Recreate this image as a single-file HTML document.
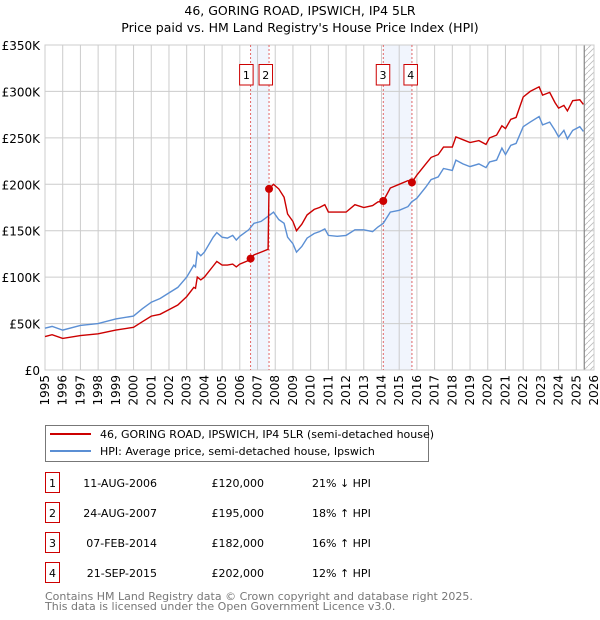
<!DOCTYPE html>
<html><head><meta charset="utf-8"><style>
body{margin:0;background:#fff;font-family:"Liberation Sans","DejaVu Sans",sans-serif;}
svg{display:block}
</style></head><body>
<svg id="c" width="600" height="620" font-family="DejaVu Sans, Liberation Sans, sans-serif">
<text x="300" y="15" text-anchor="middle" font-size="12.5">46, GORING ROAD, IPSWICH, IP4 5LR</text>
<text x="300" y="32" text-anchor="middle" font-size="12.5">Price paid vs. HM Land Registry's House Price Index (HPI)</text>
<g id="plot"></g>
<g>
<rect x="45.5" y="425.5" width="383" height="36" fill="#fff" stroke="#777"/>
<line x1="50" y1="434" x2="91" y2="434" stroke="#cc0000" stroke-width="2"/>
<text x="100" y="438" font-size="11">46, GORING ROAD, IPSWICH, IP4 5LR (semi-detached house)</text>
<line x1="50" y1="451" x2="91" y2="451" stroke="#5b8fd4" stroke-width="2"/>
<text x="100" y="455" font-size="11">HPI: Average price, semi-detached house, Ipswich</text>
</g>
<g id="table" font-size="11"></g>
<text x="45" y="600" font-size="11" fill="#777">Contains HM Land Registry data © Crown copyright and database right 2025.</text>
<text x="45" y="610" font-size="11" fill="#777">This data is licensed under the Open Government Licence v3.0.</text>
</svg>
<script>
const hpiYears=[1995,1995.4,1996,1997,1998,1999,2000,2000.5,2001,2001.5,2002,2002.5,2003,2003.4,2003.5,2003.6,2003.8,2004,2004.5,2004.7,2005,2005.3,2005.6,2005.8,2006,2006.5,2006.8,2007.2,2007.7,2007.9,2008.2,2008.5,2008.7,2009,2009.2,2009.5,2009.8,2010.2,2010.5,2010.8,2011,2011.5,2012,2012.5,2013,2013.5,2013.8,2014.1,2014.5,2015,2015.5,2015.7,2016,2016.5,2016.8,2017.2,2017.5,2018,2018.2,2018.6,2019,2019.5,2019.9,2020.1,2020.5,2020.8,2021,2021.3,2021.6,2022,2022.4,2022.9,2023.1,2023.5,2023.8,2024.0,2024.3,2024.5,2024.8,2025.2,2025.4];
const hpiValues=[45,47,43,48,50,55,58,66,73,77,83,89,100,113,111,127,123,127,143,148,143,142,145,140,144,151,158,160,167,170,162,158,143,136,127,133,142,147,149,152,145,144,145,151,151,149,154,158,170,172,176,181,185,197,205,208,217,215,226,222,219,222,218,224,226,239,232,242,244,262,267,273,264,267,258,251,258,249,258,262,257];
const propYears=[1995,1995.4,1996,1997,1998,1999,2000,2000.5,2001,2001.5,2002,2002.5,2003,2003.4,2003.5,2003.6,2003.8,2004,2004.5,2004.7,2005,2005.3,2005.6,2005.8,2006,2006.5,2006.61,2006.8,2007.2,2007.6,2007.65,2007.9,2008.2,2008.5,2008.7,2009,2009.2,2009.5,2009.8,2010.2,2010.5,2010.8,2011,2011.5,2012,2012.5,2013,2013.5,2013.8,2014.1,2014.5,2015,2015.5,2015.72,2016,2016.5,2016.8,2017.2,2017.5,2018,2018.2,2018.6,2019,2019.5,2019.9,2020.1,2020.5,2020.8,2021,2021.3,2021.6,2022,2022.4,2022.9,2023.1,2023.5,2023.8,2024.0,2024.3,2024.5,2024.8,2025.2,2025.4];
const propValues=[36,38,34,37,39,43,46,52,58,60,65,70,79,89,88,100,97,100,112,117,113,113,114,111,114,118,120,124,127,130,195,200,195,186,168,160,150,157,167,173,175,178,170,170,170,178,175,177,181,182,196,200,204,202,210,222,229,232,240,240,251,248,245,247,243,250,253,263,260,270,272,294,300,305,296,299,288,282,285,279,290,291,286];
const saleYears=[2006.61,2007.65,2014.1,2015.72];
const salePrices=[120,195,182,202];
const saleLabels=["1","2","3","4"];
const saleDates=["11-AUG-2006","24-AUG-2007","07-FEB-2014","21-SEP-2015"];
const salePriceText=["£120,000","£195,000","£182,000","£202,000"];
const saleHpiText=["21% ↓ HPI","18% ↑ HPI","16% ↑ HPI","12% ↑ HPI"];
const yTicks=[0,50,100,150,200,250,300,350];
const yTickLabels=["£0","£50K","£100K","£150K","£200K","£250K","£300K","£350K"];
const xTicks=[1995,1996,1997,1998,1999,2000,2001,2002,2003,2004,2005,2006,2007,2008,2009,2010,2011,2012,2013,2014,2015,2016,2017,2018,2019,2020,2021,2022,2023,2024,2025,2026];

const NS="http://www.w3.org/2000/svg";
const L=45,R=594,T=45,B=370;
const x=v=>L+(v-1995)/(2026-1995)*(R-L);
const y=v=>B-v/350*(B-T);
const g=document.getElementById('plot');
function mk(tag,attrs,parent){const e=document.createElementNS(NS,tag);for(const k in attrs)e.setAttribute(k,attrs[k]);(parent||g).appendChild(e);return e;}

for(let i=0;i<4;i+=2){
  const b=mk('rect',{x:x(saleYears[i]),y:T,width:x(saleYears[i+1])-x(saleYears[i]),height:B-T,fill:'#eef3fc',opacity:0.8});
  
  
}
yTicks.forEach((v,i)=>{
  const l=mk('line',{x1:L,x2:R,y1:y(v),y2:y(v),stroke:'#cccccc'});
  
  
  const t=mk('text',{x:L-5,y:y(v)+5,'text-anchor':'end','font-size':12});
  t.textContent=yTickLabels[i];
  
  
});
xTicks.forEach(v=>{
  const l=mk('line',{x1:x(v),x2:x(v),y1:T,y2:B,stroke:'#cccccc'});
  
  
  const t=mk('text',{x:0,y:0,'text-anchor':'end','font-size':12,transform:`translate(${x(v)+4},${B+5}) rotate(-90)`});
  t.textContent=v;
  
  
});
const defs=mk('defs',{});
const p=mk('pattern',{id:'h',width:6,height:6,patternUnits:'userSpaceOnUse'},defs);
mk('path',{d:'M0,6 L6,0',stroke:'#bbb','stroke-width':0.8},p);
const hx=x(2025.45);
const hr=mk('rect',{x:hx,y:T,width:R-hx,height:B-T,fill:'url(#h)'});


const hl=mk('line',{x1:hx,x2:hx,y1:T,y2:B,stroke:'#888','stroke-width':1.2});


mk('rect',{x:L,y:T,width:R-L,height:B-T,fill:'none',stroke:'#cccccc'});
saleYears.forEach(v=>{
  const l=mk('line',{x1:x(v),x2:x(v),y1:T,y2:B,stroke:'#e05555','stroke-dasharray':'2,2','stroke-width':0.9});
  
  
});
const hp=mk('path',{d:hpiYears.map((v,i)=>(i?'L':'M')+x(v).toFixed(1)+','+y(hpiValues[i]).toFixed(1)).join(''),fill:'none',stroke:'#5b8fd4','stroke-width':1.4});


const pp=mk('path',{d:propYears.map((v,i)=>(i?'L':'M')+x(v).toFixed(1)+','+y(propValues[i]).toFixed(1)).join(''),fill:'none',stroke:'#cc0000','stroke-width':1.4});


const labelOff=[-4,-3,0,-1];
saleYears.forEach((v,i)=>{
  const c=mk('circle',{cx:x(v),cy:y(salePrices[i]),r:4,fill:'#cc0000'});
  
  
  const bx=x(v)+labelOff[i]-7;
  const r=mk('rect',{x:bx,y:64.5,width:13.5,height:20.5,fill:'#fff',stroke:'#cc0000'});
  
  
  const t=mk('text',{x:bx+6.75,y:79,'text-anchor':'middle','font-size':11});
  t.textContent=saleLabels[i];
  
  
});
const tb=document.getElementById('table');
saleDates.forEach((d,i)=>{
  const yy=483+i*30;
  const r=mk('rect',{x:45.5,y:yy-10.5,width:14,height:20,fill:'#fff',stroke:'#cc0000'},tb);
  
  
  const n=mk('text',{x:52.5,y:yy+4,'text-anchor':'middle'},tb);n.textContent=saleLabels[i];
  
  
  const a=mk('text',{x:157,y:yy+4,'text-anchor':'end'},tb);a.textContent=d;
  
  
  const b=mk('text',{x:264,y:yy+4,'text-anchor':'end'},tb);b.textContent=salePriceText[i];
  
  
  const c=mk('text',{x:312,y:yy+4},tb);c.textContent=saleHpiText[i];
  
  
});
</script>
</body></html>
